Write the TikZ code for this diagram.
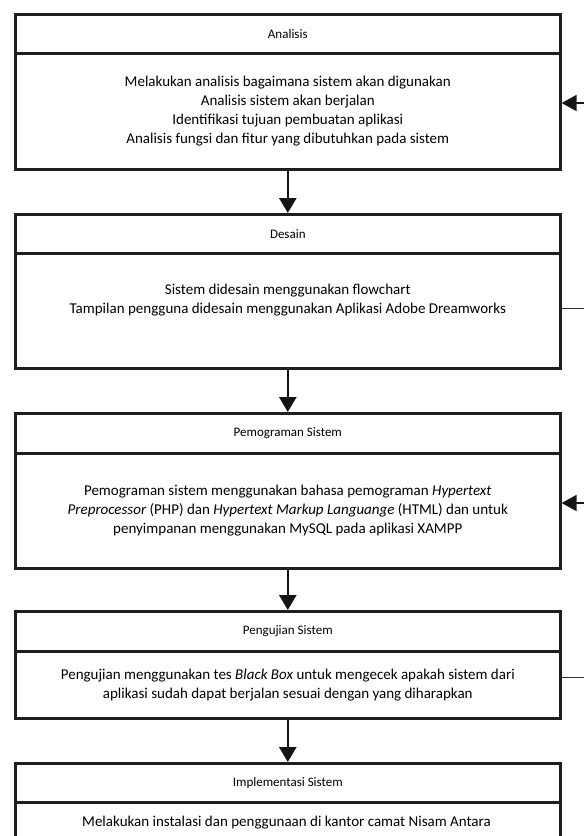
\documentclass[tikz,border=0pt]{standalone}
\usepackage{fontspec}
\setmainfont{Carlito}
\usetikzlibrary{arrows.meta}
\begin{document}
\begin{tikzpicture}[x=1pt,y=-1pt,
  boxline/.style={draw=black!88,line width=2.6pt},
  hdr/.style={boxline,anchor=north west,minimum width=545pt,inner sep=0pt,font=\fontsize{13}{15}\selectfont,align=center},
  bdy/.style={boxline,anchor=north west,minimum width=545pt,inner sep=0pt,font=\fontsize{15}{19}\selectfont,align=center},
  flow/.style={line width=2.6pt,draw=black!92,-{Triangle[length=15pt,width=17pt]}},
  back/.style={line width=1.8pt,draw=black!92,-{Triangle[length=15pt,width=16pt]}},
  thin/.style={line width=0.9pt,draw=black!80}]
\clip (0,0) rectangle (584,836);
\fill[white] (0,0) rectangle (584,836);
% Analisis
\node[hdr,minimum height=39pt] (ah) at (14,13) {Analisis};
\node[bdy,minimum height=116pt] (ab) at (14,52) {Melakukan analisis bagaimana sistem akan digunakan\\Analisis sistem akan berjalan\\Identifikasi tujuan pembuatan aplikasi\\Analisis fungsi dan fitur yang dibutuhkan pada sistem};
% Desain
\node[hdr,minimum height=39pt] (dh) at (14,213) {Desain};
\node[bdy,minimum height=115pt] (db) at (14,252) {Sistem didesain menggunakan flowchart\\Tampilan pengguna didesain menggunakan Aplikasi Adobe Dreamworks\\\strut};
% Pemograman
\node[hdr,minimum height=40pt] (ph) at (14,412) {Pemograman Sistem};
\node[bdy,minimum height=115pt] (pb) at (14,452) {Pemograman sistem menggunakan bahasa pemograman \textit{Hypertext}\\\textit{Preprocessor} (PHP) dan \textit{Hypertext Markup Languange} (HTML) dan untuk\\penyimpanan menggunakan MySQL pada aplikasi XAMPP};
% Pengujian
\node[hdr,minimum height=40pt] (uh) at (14,610) {Pengujian Sistem};
\node[bdy,minimum height=67pt] (ub) at (14,650) {Pengujian menggunakan tes \textit{Black Box} untuk mengecek apakah sistem dari\\aplikasi sudah dapat berjalan sesuai dengan yang diharapkan};
% Implementasi
\node[hdr,minimum height=39pt] (ih) at (14,762) {Implementasi Sistem};
\node[boxline,anchor=north west,minimum width=545pt,minimum height=60pt,inner sep=0pt] (ib) at (14,801) {};
\node[font=\fontsize{15}{19}\selectfont] (it) at (286.5,823) {Melakukan instalasi dan penggunaan di kantor camat Nisam Antara};
% flow arrows
\draw[flow] (ab.south) -- (dh.north);
\draw[flow] (db.south) -- (ph.north);
\draw[flow] (pb.south) -- (uh.north);
\draw[flow] (ub.south) -- (ih.north);
% side connectors
\coordinate (ra) at (584,103);
\coordinate (rd) at (584,308);
\coordinate (rp) at (584,503);
\coordinate (ru) at (584,677);
\draw[back] (ra) -- (ra -| ab.east);
\draw[thin] (rd -| db.east) -- (rd);
\draw[back] (rp) -- (rp -| pb.east);
\draw[thin] (ru -| ub.east) -- (ru);
\end{tikzpicture}
\end{document}
